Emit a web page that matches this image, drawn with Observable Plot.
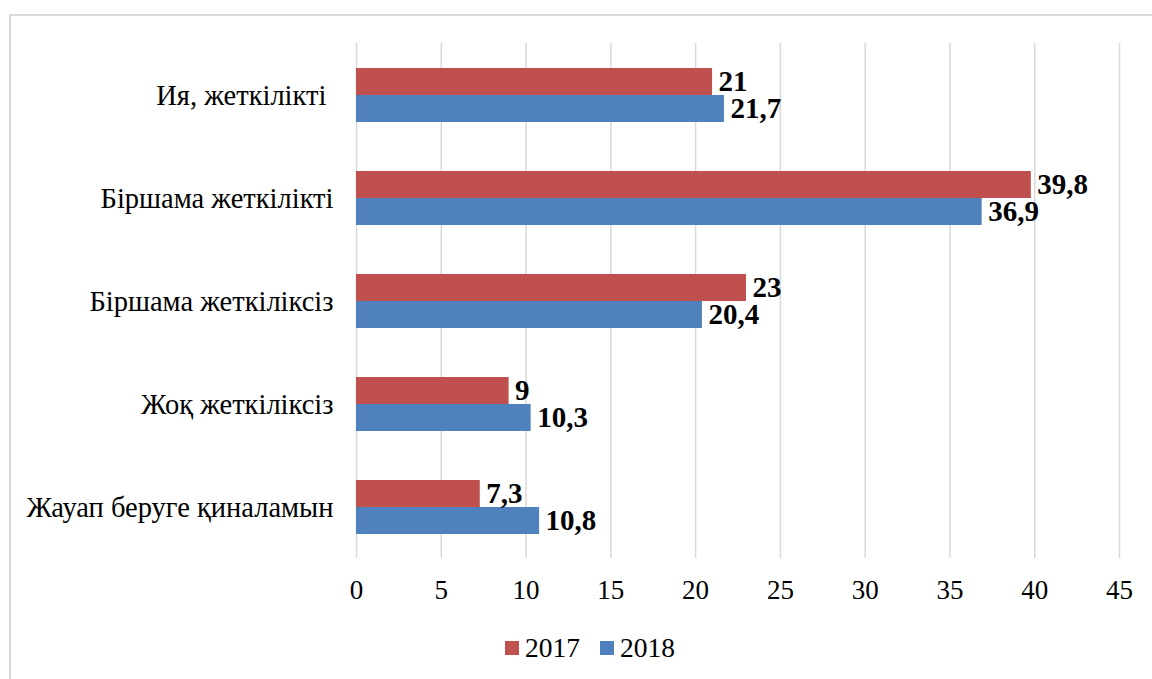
<!DOCTYPE html>
<html>
<head>
<meta charset="utf-8">
<script src="https://cdn.jsdelivr.net/npm/d3@7"></script>
<script src="https://cdn.jsdelivr.net/npm/@observablehq/plot@0.6"></script>
<style>
  html, body { margin: 0; padding: 0; background: #fff; width: 1152px; height: 679px; overflow: hidden; }
  body { position: relative; font-family: "Liberation Serif", "Times New Roman", serif; }
  #frame { position: absolute; left: 9px; top: 14px; width: 1200px; height: 700px;
           border-top: 2px solid #d9d9d9; border-left: 2px solid #d9d9d9; box-sizing: border-box; }
  #chart { position: absolute; left: 0; top: 0; }
  #legend { position: absolute; left: 505px; top: 634px; display: flex; align-items: center;
            font-size: 27.5px; color: #000; line-height: 1; }
  .item { display: flex; align-items: center; margin-right: 20px; }
  .sw { width: 14px; height: 14px; margin-right: 6px; display: inline-block; }
</style>
</head>
<body>
<div id="frame"></div>
<div id="chart"></div>
<div id="legend"></div>
<script>
const categories = ["Ия, жеткілікті\u00a0", "Біршама жеткілікті", "Біршама жеткіліксіз", "Жоқ жеткіліксіз", "Жауап беруге қиналамын"];
const years = ["2017", "2018"];
const values2017 = [21, 39.8, 23, 9, 7.3];
const values2018 = [21.7, 36.9, 20.4, 10.3, 10.8];
const xTicks = [0, 5, 10, 15, 20, 25, 30, 35, 40, 45];
const colors = ["#C0504D", "#4F81BD"];

const rows2017 = categories.map((c, i) => ({category: c, year: years[0], value: values2017[i]}));
const rows2018 = categories.map((c, i) => ({category: c, year: years[1], value: values2018[i]}));
const fmt = v => String(v).replace(".", ",");

const chart = Plot.plot({
  width: 1152,
  height: 620,
  marginLeft: 356,
  marginRight: 33,
  marginTop: 43,
  marginBottom: 62,
  style: {fontFamily: "Liberation Serif", fontSize: "27px", color: "#000", background: "transparent", overflow: "visible"},
  x: {domain: [0, 45], label: null},
  y: {domain: categories, paddingInner: 0.476, paddingOuter: 0.238, label: null},
  color: {domain: years, range: colors},
  marks: [
    Plot.gridX(xTicks, {stroke: "#d9d9d9", strokeOpacity: 1, strokeWidth: 1.5}),
    Plot.barX(rows2017, {x: "value", y: "category", fill: "year", insetBottom: 27}),
    Plot.barX(rows2018, {x: "value", y: "category", fill: "year", insetTop: 27}),
    Plot.text(rows2017, {x: "value", y: "category", text: d => fmt(d.value), dx: 6, dy: -13.5,
      textAnchor: "start", fontWeight: "bold", fontSize: 29, fill: "#000"}),
    Plot.text(rows2018, {x: "value", y: "category", text: d => fmt(d.value), dx: 6, dy: 13.5,
      textAnchor: "start", fontWeight: "bold", fontSize: 29, fill: "#000"}),
    Plot.axisX({ticks: xTicks, tickSize: 0, tickPadding: 21, label: null, fontSize: 27}),
    Plot.axisY({tickSize: 0, tickPadding: 23, label: null, fontSize: 28.5})
  ]
});
document.getElementById("chart").appendChild(chart);

const legend = document.getElementById("legend");
years.forEach((y, i) => {
  const item = document.createElement("div");
  item.className = "item";
  const sw = document.createElement("span");
  sw.className = "sw";
  sw.style.background = colors[i];
  const t = document.createElement("span");
  t.textContent = y;
  item.appendChild(sw);
  item.appendChild(t);
  legend.appendChild(item);
});
</script>
</body>
</html>
